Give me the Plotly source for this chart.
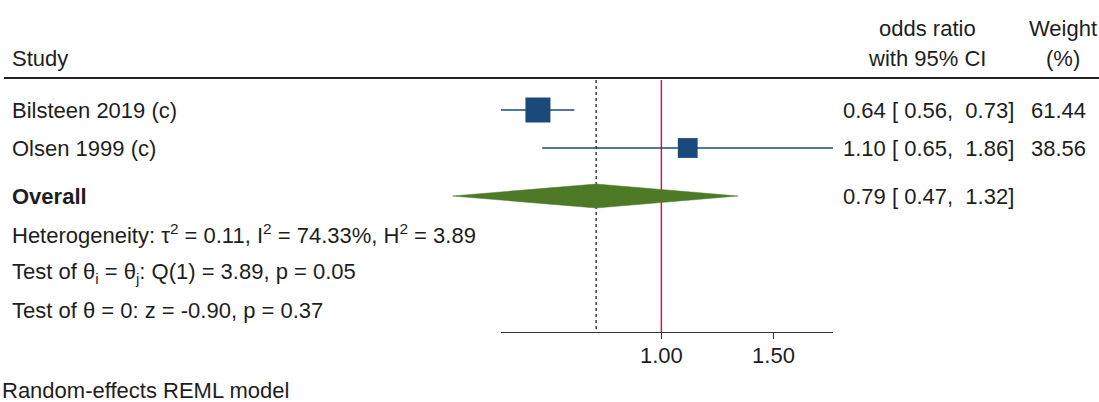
import math
import plotly.graph_objects as go

# ---- data -------------------------------------------------------------
studies = ["Bilsteen 2019 (c)", "Olsen 1999 (c)"]
or_est = [0.64, 1.10]
ci_lo = [0.56, 0.65]
ci_hi = [0.73, 1.86]
weights = [61.44, 38.56]

overall_label = "Overall"
overall_est = 0.79
overall_lo = 0.47
overall_hi = 1.32

stat_lines = [
    "Heterogeneity: τ<sup>2</sup> = 0.11, I<sup>2</sup> = 74.33%, H<sup>2</sup> = 3.89",
    "Test of θ<sub>i</sub> = θ<sub>j</sub>: Q(1) = 3.89, p = 0.05",
    "Test of θ = 0: z = -0.90, p = 0.37",
]
model_note = "Random-effects REML model"

tick_vals = [1.0, 1.5]
tick_text = ["1.00", "1.50"]
null_value = 1.0

# ---- layout constants (pixels) -----------------------------------------
W, H = 1099, 402
FONT = "Arial, Liberation Sans, Helvetica, sans-serif"
FS = 22
TXT = "#1e1e1e"
NAVY = "#1a4a7b"
GREEN = "#4e7a27"
RED = "#d0164e"

axis_left_px, axis_right_px = 501, 833
axis_y = 332
header_line_y = 78
row_y = [110, 148]
overall_y = 196
stat_y = [234, 272.5, 310.5]
note_y = 390
ci_col_right = 1016
wt_col_right = 1088
ci_col_center = 927
wt_col_center = 1063
diamond_half_h = 12
max_square = 25

# log scale shared by the plotting area and the drawn axis
a_lo, a_hi = min(ci_lo), max(ci_hi)
k = (axis_right_px - axis_left_px) / (math.log10(a_hi) - math.log10(a_lo))
x0_log = math.log10(a_lo) - axis_left_px / k
x1_log = math.log10(a_lo) + (W - axis_left_px) / k

fig = go.Figure()

# reference lines: null effect and overall estimate
fig.add_trace(go.Scatter(x=[null_value, null_value], y=[header_line_y + 2, axis_y],
                         mode="lines", line=dict(color=RED, width=1.5),
                         hoverinfo="skip", showlegend=False))
fig.add_trace(go.Scatter(x=[overall_est, overall_est], y=[header_line_y + 2, axis_y],
                         mode="lines", line=dict(color="#222222", width=1.3, dash="dot"),
                         hoverinfo="skip", showlegend=False))

# confidence intervals
for lo, hi, y in zip(ci_lo, ci_hi, row_y):
    fig.add_trace(go.Scatter(x=[lo, hi], y=[y, y], mode="lines",
                             line=dict(color=NAVY, width=1.3),
                             hoverinfo="skip", showlegend=False))

# study squares, area proportional to weight
wmax = max(weights)
fig.add_trace(go.Scatter(
    x=or_est, y=row_y, mode="markers",
    marker=dict(symbol="square", color=NAVY, opacity=1,
                size=[max_square * math.sqrt(w / wmax) for w in weights],
                line=dict(width=0)),
    hoverinfo="skip", showlegend=False))

# overall diamond
fig.add_trace(go.Scatter(
    x=[overall_lo, overall_est, overall_hi, overall_est, overall_lo],
    y=[overall_y, overall_y - diamond_half_h, overall_y, overall_y + diamond_half_h, overall_y],
    mode="lines", fill="toself", fillcolor=GREEN, line=dict(color=GREEN, width=0.5),
    hoverinfo="skip", showlegend=False))

# invisible trace carrying the drawn x axis
fig.add_trace(go.Scatter(x=[a_lo, a_hi], y=[axis_y, axis_y], xaxis="x2", yaxis="y",
                         mode="lines", line=dict(width=0), opacity=0,
                         hoverinfo="skip", showlegend=False))

# header rule
fig.add_shape(type="line", xref="paper", yref="y", x0=4 / W, x1=1,
              y0=header_line_y, y1=header_line_y, line=dict(color="#222222", width=1.8))


def px(xp):
    return xp / W


def note(text, x, y, anchor="left", bold=False):
    fig.add_annotation(text=f"<b>{text}</b>" if bold else text, x=px(x), y=y,
                       xref="paper", yref="y", xanchor=anchor, yanchor="middle",
                       showarrow=False, font=dict(family=FONT, size=FS, color=TXT))


# header
note("Study", 10, 58)
note("odds ratio", ci_col_center, 28, "center")
note("with 95% CI", ci_col_center, 58, "center")
note("Weight", wt_col_center, 28, "center")
note("(%)", wt_col_center, 58, "center")

# study rows
for name, e, lo, hi, w, y in zip(studies, or_est, ci_lo, ci_hi, weights, row_y):
    note(name, 10, y)
    note(f"{e:.2f} [ {lo:.2f},  {hi:.2f}]", ci_col_right, y, "right")
    note(f"{w:.2f}", wt_col_right, y, "right")

# overall row
note(overall_label, 10, overall_y, bold=True)
note(f"{overall_est:.2f} [ {overall_lo:.2f},  {overall_hi:.2f}]", ci_col_right, overall_y, "right")

for s, y in zip(stat_lines, stat_y):
    note(s, 10, y)

note(model_note, 0, note_y)

fig.update_layout(
    width=W, height=H,
    margin=dict(l=0, r=0, t=0, b=0),
    paper_bgcolor="white", plot_bgcolor="rgba(0,0,0,0)",
    xaxis=dict(type="log", range=[x0_log, x1_log], domain=[0, 1], visible=False,
               fixedrange=True),
    yaxis=dict(range=[H, 0], domain=[0, 1], visible=False, fixedrange=True),
    xaxis2=dict(type="log", range=[math.log10(a_lo), math.log10(a_hi)],
                domain=[px(axis_left_px), px(axis_right_px)],
                anchor="free", position=1 - axis_y / H,
                showline=True, linecolor="#333333", linewidth=1.3,
                ticks="outside", ticklen=6, tickcolor="#333333", tickwidth=1.3,
                ticklabelstandoff=-3,
                tickvals=tick_vals, ticktext=tick_text, showgrid=False, zeroline=False,
                tickfont=dict(family=FONT, size=FS, color=TXT), fixedrange=True),
    showlegend=False,
)

fig.write_html("out.html")
